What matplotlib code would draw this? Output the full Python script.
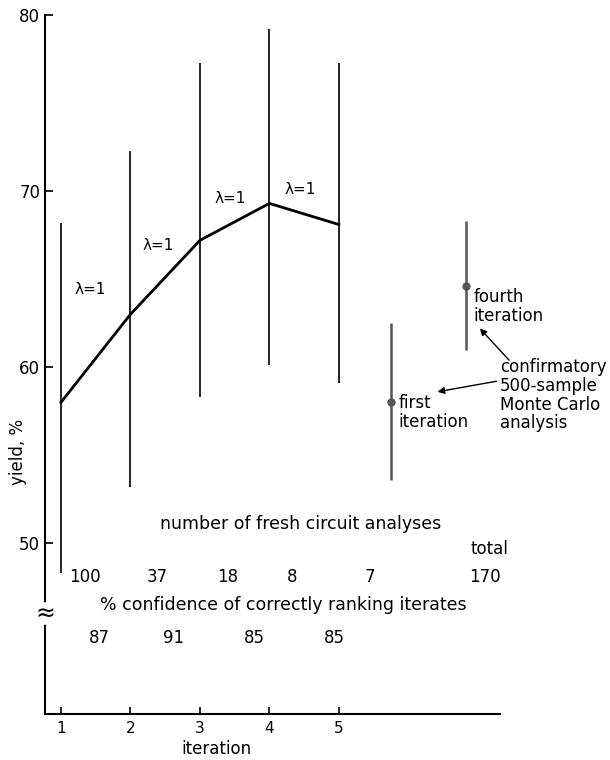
import matplotlib.pyplot as plt

# ---- data ----
iterations = [1, 2, 3, 4, 5]
mean_yield = [58, 63, 67.2, 69.3, 68.1]
range_low = [48.3, 53.2, 58.3, 60.1, 59.1]
range_high = [68.2, 72.3, 77.3, 79.2, 77.3]

lambda_x = [1.42, 2.40, 3.43, 4.45]
lambda_y = [64.4, 66.9, 69.6, 70.1]

# confirmatory Monte Carlo runs (x positions are just placement to the right)
mc_x = [5.75, 6.83]
mc_yield = [58.0, 64.6]
mc_low = [53.6, 61.0]
mc_high = [62.5, 68.3]
mc_labels = ["first\niteration", "fourth\niteration"]

fresh_x = [1.35, 2.38, 3.40, 4.33, 5.45, 7.10]
fresh_analyses = ["100", "37", "18", "8", "7", "170"]
conf_x = [1.55, 2.62, 3.78, 4.93]
confidence = ["87", "91", "85", "85"]

plt.rcParams['font.family'] = ['DejaVu Sans']

fig = plt.figure(figsize=(6.1, 7.6), dpi=100)
ax = fig.add_axes([45 / 610, 46 / 760, 455 / 610, 699 / 760])

ax.set_xlim(0.77, 7.32)
ax.set_ylim(40.3, 80.0)

# range bars for each iteration
ax.vlines(iterations, range_low, range_high, color="black", lw=1.2)
ax.plot(iterations, mean_yield, color="black", lw=2.0)
for x, y in zip(lambda_x, lambda_y):
    ax.text(x, y, "λ=1", fontsize=11, ha="center", va="center")

# Monte Carlo check
ax.vlines(mc_x, mc_low, mc_high, color="#555555", lw=1.8)
ax.plot(mc_x, mc_yield, "o", color="#555555", ms=5)
ax.text(mc_x[0] + 0.11, mc_yield[0] + 0.45, mc_labels[0], fontsize=12, ha="left", va="top",
        linespacing=1.05)
ax.text(mc_x[1] + 0.11, mc_yield[1] - 0.1, mc_labels[1], fontsize=12, ha="left", va="top",
        linespacing=1.05)
ax.text(7.32, 60.5, "confirmatory\n500-sample\nMonte Carlo\nanalysis", fontsize=12,
        ha="left", va="top", linespacing=1.05, clip_on=False)
ax.annotate("", xy=(7.03, 62.2), xytext=(7.45, 60.4),
            arrowprops=dict(arrowstyle="-|>", color="black", lw=1.0, mutation_scale=10,
                            shrinkA=0, shrinkB=0),
            annotation_clip=False)
ax.annotate("", xy=(6.42, 58.6), xytext=(7.27, 59.2),
            arrowprops=dict(arrowstyle="-|>", color="black", lw=1.0, mutation_scale=10,
                            shrinkA=0, shrinkB=0),
            annotation_clip=False)

# tables below the plot
ax.text(4.45, 51.1, "number of fresh circuit analyses", fontsize=12.5, ha="center", va="center")
ax.text(7.17, 49.66, "total", fontsize=12, ha="center", va="center")
for x, s in zip(fresh_x, fresh_analyses):
    ax.text(x, 48.1, s, fontsize=12, ha="center", va="center")
ax.text(4.2, 46.5, "% confidence of correctly ranking iterates", fontsize=12.5,
        ha="center", va="center")
for x, s in zip(conf_x, confidence):
    ax.text(x, 44.6, s, fontsize=12, ha="center", va="center")

# axes styling
for side in ["top", "right"]:
    ax.spines[side].set_visible(False)
ax.spines["left"].set_linewidth(1.5)
ax.spines["bottom"].set_linewidth(1.5)
ax.set_yticks([50, 60, 70, 80])
ax.set_xticks(iterations)
ax.tick_params(direction="in", length=6, width=1.2, labelsize=12)
ax.tick_params(axis="x", length=5, labelsize=11, pad=5)
ax.set_xlabel("iteration", fontsize=12)
ax.set_ylabel("yield, %", fontsize=12)
ax.xaxis.set_label_coords(0.376, -0.037)
ax.yaxis.set_label_coords(-0.04, 0.375)

# axis break between yield scale and tables
ax.plot([0.77, 0.77], [45.5, 46.5], color="white", lw=4, clip_on=False, zorder=5)
ax.text(0.77, 46.0, "≈", fontsize=17, ha="center", va="center", zorder=6, clip_on=False)

fig.savefig("out.png", dpi=100)
